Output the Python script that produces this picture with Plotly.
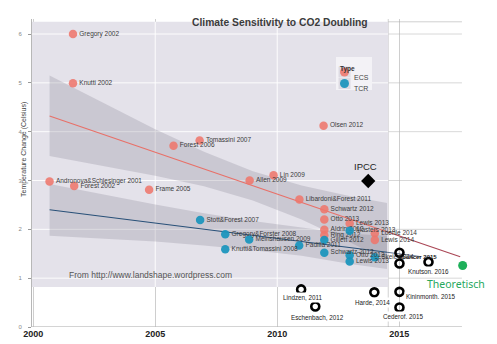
import plotly.graph_objects as go

# ---- published estimates (year, sensitivity in deg C) ----
ecs_names = ["Andronova&Schlesinger 2001", "Gregory 2002", "Knutti 2002", "Forest 2002",
             "Frame 2005", "Forest 2006", "Tomassini 2007", "Allen 2009", "Lin 2009",
             "Libardoni&Forest 2011", "Olsen 2012", "Schwartz 2012", "Otto 2013",
             "Aldrin 2012", "Ring 2012", "Lewis 2013", "Loehle 2014", "Lewis 2014"]
ecs_year = [2000.67, 2001.63, 2001.63, 2001.68, 2004.75, 2005.75, 2006.82, 2008.87, 2009.85,
            2010.91, 2011.90, 2011.93, 2011.93, 2011.93, 2011.93, 2012.97, 2014.0, 2014.0]
ecs_value = [2.98, 6.0, 4.99, 2.89, 2.81, 3.71, 3.82, 3.0, 3.11,
             2.61, 4.12, 2.41, 2.20, 1.99, 1.88, 2.12, 1.92, 1.78]

tcr_names = ["Stott&Forest 2007", "Gregory&Forster 2008", "Knutti&Tomassini 2008",
             "Meinshausen 2009", "Padilla 2011", "Gillett 2012", "Schwartz 2012",
             "Masters 2013", "Otto 2013", "Lewis 2013", "Skeie 2014"]
tcr_year = [2006.84, 2007.87, 2007.87, 2008.85, 2010.90, 2011.93, 2011.93,
            2012.97, 2012.97, 2012.97, 2014.0]
tcr_value = [2.19, 1.90, 1.59, 1.79, 1.67, 1.78, 1.52, 1.97, 1.47, 1.34, 1.43]

# ---- linear trends and their confidence bands ----
ecs_fit_year = [2000.67, 2014.5]
ecs_fit_value = [4.32, 1.95]
ecs_ext_year = [2014.5, 2017.5]
ecs_ext_value = [1.95, 1.44]
tcr_fit_year = [2000.67, 2014.5]
tcr_fit_value = [2.40, 1.53]
tcr_ext_year = [2014.5, 2015.9]
tcr_ext_value = [1.53, 1.44]

band_year = [2000.67, 2003, 2005, 2007, 2009, 2011, 2013, 2014.5]
ecs_band_upper = [5.15, 4.55, 4.05, 3.59, 3.19, 2.90, 2.68, 2.54]
ecs_band_lower = [3.50, 3.29, 3.10, 2.88, 2.59, 2.20, 1.73, 1.36]
tcr_band_upper = [2.93, 2.70, 2.51, 2.33, 2.17, 2.04, 1.91, 1.87]
tcr_band_lower = [1.87, 1.80, 1.75, 1.67, 1.57, 1.46, 1.29, 1.19]

# ---- low-sensitivity estimates marked on top ----
obs_year = [2015.01, 2015.01, 2016.20, 2010.98, 2011.56, 2013.98, 2015.01, 2015.01]
obs_value = [1.52, 1.30, 1.33, 0.77, 0.42, 0.71, 0.72, 0.40]
obs_labels = ["Knutson. 2016", "Lindzen, 2011", "Eschenbach, 2012", "Harde, 2014",
              "Kininmonth. 2015", "Cederof. 2015"]
obs_label_index = [2, 3, 4, 5, 6, 7]

ipcc_year, ipcc_value = [2013.73], [2.99]
theory_year, theory_value = [2017.6], [1.26]

x_ticks = [2000, 2005, 2010, 2015]
y_ticks = [0, 1, 2, 3, 4, 5, 6]

panel_x = [1999.95, 2014.55]
panel_y = [0.82, 6.25]
grid_end = 2017.57

ECS_COL = "rgba(238,118,108,0.88)"
TCR_COL = "rgba(24,148,188,0.92)"
BAND_COL = "rgba(120,118,132,0.24)"
PANEL_COL = "#e4e2ea"
GRID_COL = "rgba(185,185,185,0.7)"

L, R, T, B = 32, 3, 19, 17
PW, PH = 497 - L - R, 344 - T - B


def px(xp):
    return (xp - L) / PW


def py(yp):
    return (344 - B - yp) / PH


fig = go.Figure()

# confidence bands
for up, lo in [(ecs_band_upper, ecs_band_lower), (tcr_band_upper, tcr_band_lower)]:
    fig.add_trace(go.Scatter(x=band_year + band_year[::-1], y=up + lo[::-1],
                             fill="toself", fillcolor=BAND_COL, line=dict(width=0),
                             mode="lines", hoverinfo="skip", showlegend=False))

# trend lines
fig.add_trace(go.Scatter(x=ecs_fit_year, y=ecs_fit_value, mode="lines",
                         line=dict(color="rgb(232,112,104)", width=1.1), showlegend=False))
fig.add_trace(go.Scatter(x=ecs_ext_year, y=ecs_ext_value, mode="lines",
                         line=dict(color="rgb(170,70,85)", width=1.1), showlegend=False))
fig.add_trace(go.Scatter(x=tcr_fit_year, y=tcr_fit_value, mode="lines",
                         line=dict(color="rgb(40,80,120)", width=1.1), showlegend=False))
fig.add_trace(go.Scatter(x=tcr_ext_year, y=tcr_ext_value, mode="lines",
                         line=dict(color="rgb(90,110,140)", width=1.0), showlegend=False))

label_font = dict(family="Liberation Sans, Arial", size=6.5, color="#3a3a3a")

fig.add_trace(go.Scatter(x=ecs_year, y=ecs_value, mode="markers+text", text=ecs_names,
                         textposition="middle right", textfont=label_font,
                         marker=dict(size=8.5, color=ECS_COL), name="ECS", showlegend=False))
fig.add_trace(go.Scatter(x=tcr_year, y=tcr_value, mode="markers+text", text=tcr_names,
                         textposition="middle right", textfont=label_font,
                         marker=dict(size=8.5, color=TCR_COL), name="TCR", showlegend=False))

fig.add_trace(go.Scatter(x=ipcc_year, y=ipcc_value, mode="markers",
                         marker=dict(symbol="diamond", size=11, color="black"), showlegend=False))

fig.add_trace(go.Scatter(x=obs_year, y=obs_value, mode="markers",
                         marker=dict(symbol="circle-open", size=8, color="black",
                                     line=dict(color="black", width=2.6)),
                         showlegend=False))

fig.add_trace(go.Scatter(x=theory_year, y=theory_value, mode="markers",
                         marker=dict(size=9, color="rgb(30,176,90)"), showlegend=False))

shapes = []
# light grid and axis line stop short of the right edge
for yv in y_ticks[1:]:
    shapes.append(dict(type="line", xref="x", yref="y", x0=panel_x[0], x1=grid_end,
                       y0=yv, y1=yv, line=dict(color=GRID_COL, width=0.8), layer="below"))
shapes.append(dict(type="line", xref="x", yref="y", x0=panel_x[0], x1=grid_end,
                   y0=0, y1=0, line=dict(color="rgba(160,160,160,0.9)", width=1), layer="below"))
# ggplot-style panel with white grid
shapes.append(dict(type="rect", xref="x", yref="y", x0=panel_x[0], x1=panel_x[1],
                   y0=panel_y[0], y1=panel_y[1], fillcolor=PANEL_COL,
                   line=dict(width=0), layer="between"))
for yv in y_ticks[1:]:
    shapes.append(dict(type="line", xref="x", yref="y", x0=panel_x[0], x1=panel_x[1],
                       y0=yv, y1=yv, line=dict(color="rgba(255,255,255,0.9)", width=1),
                       layer="between"))
for xv in x_ticks[1:3]:
    shapes.append(dict(type="line", xref="x", yref="y", x0=xv, x1=xv,
                       y0=panel_y[0], y1=panel_y[1],
                       line=dict(color="rgba(255,255,255,0.9)", width=1), layer="between"))
shapes.append(dict(type="line", xref="x", yref="paper", x0=panel_x[1], x1=panel_x[1],
                   y0=0, y1=1, line=dict(color="rgba(170,170,170,0.7)", width=0.8),
                   layer="between"))
shapes.append(dict(type="line", xref="x", yref="y", x0=panel_x[1], x1=grid_end,
                   y0=panel_y[1], y1=panel_y[1],
                   line=dict(color="rgba(170,170,170,0.7)", width=0.8), layer="between"))

# legend box
shapes.append(dict(type="rect", xref="paper", yref="paper", x0=px(336), x1=px(372),
                   y0=py(90), y1=py(57), fillcolor="#f3f2f6", line=dict(width=0)))
for top, col in [(66.5, ECS_COL), (78, TCR_COL)]:
    shapes.append(dict(type="rect", xref="paper", yref="paper", x0=px(338.5), x1=px(350.5),
                       y0=py(top + 11), y1=py(top), fillcolor="#dddbe3", line=dict(width=0)))
    shapes.append(dict(type="circle", xref="paper", yref="paper", x0=px(340), x1=px(349),
                       y0=py(top + 10), y1=py(top + 1), fillcolor=col, line=dict(width=0)))

annotations = [
    dict(text="<b>Climate Sensitivity to CO2 Doubling</b>", xref="paper", yref="paper",
         x=px(280), y=py(15.5), showarrow=False,
         font=dict(family="Liberation Sans, Arial", size=10.3, color="#3c3c3c")),
    dict(text="Temperature Change (Celsius)", xref="paper", yref="paper", x=px(18), y=py(150),
         textangle=-90, showarrow=False,
         font=dict(family="Liberation Sans, Arial", size=7, color="#444")),
    dict(text="From http://www.landshape.wordpress.com", xref="x", yref="y",
         x=2004.8, y=1.065, showarrow=False,
         font=dict(family="Liberation Sans, Arial", size=8.5, color="#555")),
    dict(text="<b>Type</b>", xref="paper", yref="paper", x=px(338), y=py(62.5), xanchor="left",
         showarrow=False, font=dict(family="Liberation Sans, Arial", size=6.5, color="#333")),
    dict(text="ECS", xref="paper", yref="paper", x=px(352), y=py(72), xanchor="left",
         showarrow=False, font=dict(family="Liberation Sans, Arial", size=7, color="#444")),
    dict(text="TCR", xref="paper", yref="paper", x=px(352), y=py(83.5), xanchor="left",
         showarrow=False, font=dict(family="Liberation Sans, Arial", size=7, color="#444")),
    dict(text="IPCC", xref="x", yref="y", x=ipcc_year[0], y=ipcc_value[0], yshift=15, xshift=-3,
         showarrow=False, font=dict(family="Liberation Sans, Arial", size=9.5, color="#222")),
    dict(text="Theoretisch", xref="x", yref="y", x=theory_year[0], y=theory_value[0],
         xshift=-7, yshift=-19, showarrow=False,
         font=dict(family="Noto Sans, Open Sans", size=10.5, color="rgb(38,168,92)")),
    dict(text="<b>Spencer 2015</b>", xref="x", yref="y", x=obs_year[0], y=obs_value[0],
         xanchor="left", xshift=-3, yshift=-4, showarrow=False,
         font=dict(family="Liberation Sans, Arial", size=6, color="#222")),
]

obs_font = dict(family="Liberation Sans Narrow, Liberation Sans, Arial", size=6.3, color="#222")
label_shift = {
    "Knutson. 2016": (0, -9, "center"),
    "Lindzen, 2011": (2, -8, "center"),
    "Eschenbach, 2012": (2, -11, "center"),
    "Harde, 2014": (-2, -10, "center"),
    "Kininmonth. 2015": (5, -5, "left"),
    "Cederof. 2015": (4, -9, "center"),
}
for name, idx in zip(obs_labels, obs_label_index):
    dx, dy, anchor = label_shift[name]
    annotations.append(dict(text=name, xref="x", yref="y", x=obs_year[idx], y=obs_value[idx],
                            xshift=dx, yshift=dy, xanchor=anchor, showarrow=False,
                            bgcolor="white", borderpad=1, font=obs_font))

fig.update_layout(
    width=497, height=344,
    margin=dict(l=L, r=R, t=T, b=B),
    paper_bgcolor="white", plot_bgcolor="white",
    shapes=shapes, annotations=annotations, showlegend=False,
    xaxis=dict(range=[1999.95, 1999.95 + PW / 24.4], tickvals=x_ticks,
               ticktext=[str(v) for v in x_ticks], ticks="",
               tickfont=dict(family="Liberation Sans, Arial", size=9, color="#222", weight="bold"),
               showgrid=True, gridcolor=GRID_COL, gridwidth=0.8,
               showline=False, zeroline=False, fixedrange=True),
    yaxis=dict(range=[0, PH / 48.83], tickvals=y_ticks, ticks="outside", ticklen=3,
               tickcolor="#999", tickfont=dict(family="Liberation Sans, Arial", size=6, color="#888"),
               ticklabelstandoff=5, showgrid=False,
               showline=True, linecolor="rgba(175,175,175,0.9)", linewidth=1,
               zeroline=False, fixedrange=True),
)

fig.write_html("out.html")
